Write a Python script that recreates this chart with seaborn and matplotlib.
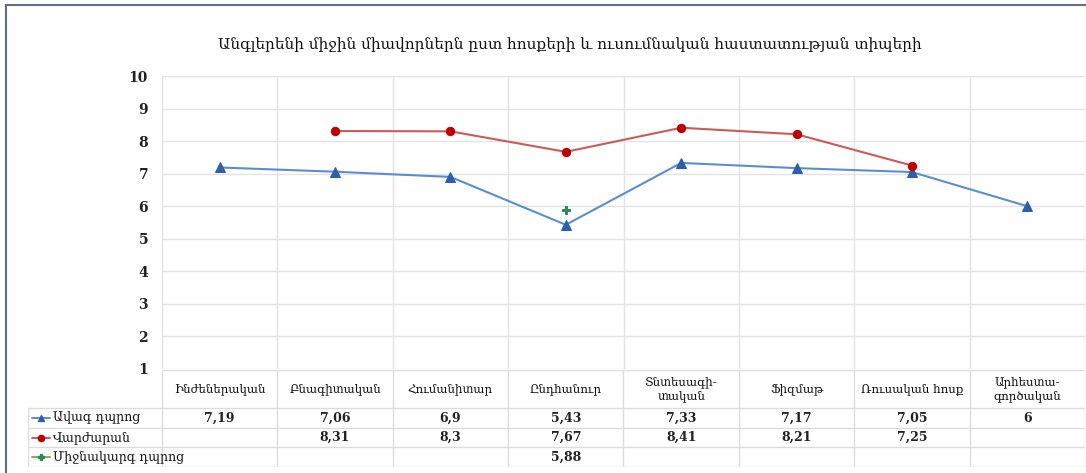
import numpy as np
import pandas as pd
import matplotlib.pyplot as plt
from matplotlib.lines import Line2D
import seaborn as sns

# data
title = "Անգլերենի միջին միավորներն ըստ հոսքերի և ուսումնական հաստատության տիպերի"
categories = ["Ինժեներական", "Բնագիտական", "Հումանիտար", "Ընդհանուր",
              "Տնտեսագի-\nտական", "Ֆիզմաթ", "Ռուսական հոսք", "Արհեստա-\nգործական"]
series_names = ["Ավագ դպրոց", "Վարժարան", "Միջնակարգ դպրոց"]
avag = [7.19, 7.06, 6.9, 5.43, 7.33, 7.17, 7.05, 6]
varzharan = [np.nan, 8.31, 8.3, 7.67, 8.41, 8.21, 7.25, np.nan]
mijnakarg = [np.nan, np.nan, np.nan, 5.88, np.nan, np.nan, np.nan, np.nan]
yticks = list(range(1, 11))

sns.set_theme(style="white")
plt.rcParams['font.family'] = ['DejaVu Serif', 'DejaVu Sans']

W, H = 1086, 473
fig = plt.figure(figsize=(W / 100, H / 100), dpi=100)
fig.patch.set_facecolor("white")

# main plot area
ax = fig.add_axes([162 / W, 1 - 369 / H, (1085 - 162) / W, (369 - 76) / H])

styles = [
    dict(line="#5b8ed0", face="#2f5faa", marker="^", ms=6.5),
    dict(line="#cc5a58", face="#c00000", marker="o", ms=6),
    dict(line="#77b356", face="#2e8b57", marker="P", ms=5.5),
]
values = [avag, varzharan, mijnakarg]
x = np.arange(len(categories))

for name, vals, st in zip(series_names, values, styles):
    df = pd.DataFrame({"x": x, "y": vals}).dropna()
    sns.lineplot(data=df, x="x", y="y", ax=ax, color=st["line"], linewidth=1.5,
                 marker=st["marker"], markersize=st["ms"],
                 markerfacecolor=st["face"], markeredgecolor=st["face"])

ax.set_xlim(-0.5, len(categories) - 0.5)
ax.set_ylim(1, 10)
ax.set_yticks(yticks)
ax.set_xticks([])
ax.grid(False)
for yv in yticks:
    ax.axhline(yv, color="#e3e3e3", lw=1, zorder=0)
for xv in np.arange(-0.5, len(categories)):
    ax.axvline(xv, color="#e3e3e3", lw=1, zorder=0)
for s in ax.spines.values():
    s.set_visible(False)
ax.tick_params(axis="y", length=0, pad=10, labelsize=10)
for lab in ax.get_yticklabels():
    lab.set_fontweight("bold")
    lab.set_color("#222222")
ax.set_xlabel("")
ax.set_ylabel("")

# data table under the plot
unit = (1085 - 162) / len(categories)
left = -0.5 - (162 - 28) / unit
tax = fig.add_axes([28 / W, 1 - 467 / H, (1085 - 28) / W, (467 - 370) / H])
tax.set_xlim(left, len(categories) - 0.5)
tax.set_ylim(467, 370)
tax.axis("off")

grid_c = "#dcdcdc"
row_edges = [408, 428, 447, 467]
tax.plot([-0.5, len(categories) - 0.5], [370, 370], color=grid_c, lw=1)
for ye in row_edges:
    tax.plot([left, len(categories) - 0.5], [ye, ye], color=grid_c, lw=1)
for xv in np.arange(-0.5, len(categories)):
    tax.plot([xv, xv], [370, 467], color=grid_c, lw=1)
tax.plot([left, left], [408, 467], color=grid_c, lw=1)

for i, cat in enumerate(categories):
    tax.text(i, 389, cat, ha="center", va="center", fontsize=8.5,
             color="#111111", linespacing=1.1)

for r, (name, vals, st) in enumerate(zip(series_names, values, styles)):
    yc = (row_edges[r] + row_edges[r + 1]) / 2
    kx0 = left + 4 / unit
    kx1 = left + 22 / unit
    tax.plot([kx0, kx1], [yc, yc], color=st["line"], lw=1.4)
    tax.plot([(kx0 + kx1) / 2], [yc], marker=st["marker"], color=st["face"],
             ms=st["ms"] * 0.75)
    tax.text(left + 25 / unit, yc, name, ha="left", va="center", fontsize=9,
             color="#111111")
    for i, v in enumerate(vals):
        if not np.isnan(v):
            txt = f"{v:g}".replace(".", ",")
            tax.text(i, yc, txt, ha="center", va="center", fontsize=9,
                     fontweight="bold", color="#222222")

fig.text(570 / W, 1 - 45 / H, title, ha="center", va="center", fontsize=11,
         color="#111111")

# frame edges visible in the reference crop
fig.add_artist(Line2D([6 / W, 1], [1 - 5 / H, 1 - 5 / H], color="#5f6f80", lw=1.5))
fig.add_artist(Line2D([6 / W, 6 / W], [0, 1 - 5 / H], color="#5f6f80", lw=1.5))

fig.savefig("out.png", dpi=100)
